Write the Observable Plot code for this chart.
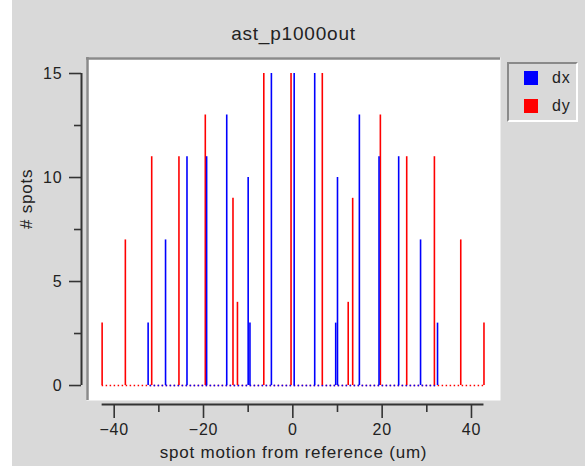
<!DOCTYPE html>
<html>
<head>
<meta charset="utf-8">
<script src="https://cdn.jsdelivr.net/npm/d3@7"></script>
<script src="https://cdn.jsdelivr.net/npm/@observablehq/plot@0.6"></script>
<style>
html, body { margin: 0; padding: 0; background: #ffffff; }
#chart { position: absolute; left: 12px; top: 0; width: 573px; height: 466px; background: #d9d9d9; }
#chart svg text { letter-spacing: 0.8px; }
#legend { position: absolute; left: 507px; top: 62px; width: 67px; height: 56px;
  border-style: solid; border-width: 2px; border-color: #8a8a8a #ffffff #ffffff #8a8a8a;
  font-family: "Liberation Sans", Arial, sans-serif; font-size: 16px; color: #222; }
.item { position: absolute; left: 0; height: 16px; width: 67px; }
.sw { position: absolute; left: 15px; top: 0; width: 14px; height: 14px; }
.lb { position: absolute; left: 43px; top: -3px; letter-spacing: 0.8px; line-height: 20px; }
</style>
</head>
<body>
<div id="chart"></div>
<div id="legend"></div>
<script>
// ---- data ----
const title = "ast_p1000out";
const xLabel = "spot motion from reference (um)";
const yLabel = "# spots";
const seriesNames = ["dx", "dy"];
const seriesColors = ["#0000ff", "#ff0000"];
const dxPos   = [-32.4, -28.5, -23.7, -19.3, -14.8, -10.0, -9.6, -4.8, 0.3, 4.9, 9.6, 10.0, 14.9, 19.3, 23.7, 28.6, 32.4];
const dxCount = [3, 7, 11, 11, 13, 10, 3, 15, 15, 15, 3, 10, 13, 11, 11, 7, 3];
const dyPos   = [-42.7, -37.5, -31.6, -25.5, -19.6, -13.4, -12.4, -6.5, -0.4, 6.6, 12.4, 13.4, 19.6, 25.5, 31.7, 37.6, 42.8];
const dyCount = [3, 7, 11, 11, 13, 9, 4, 15, 15, 15, 4, 9, 13, 11, 11, 7, 3];
const xMajorTicks = [-40, -20, 0, 20, 40];
const xMinorTicks = [-30, -10, 10, 30];
const yMajorTicks = [0, 5, 10, 15];
const yMinorTicks = [2.5, 7.5, 12.5];

// ---- build table ----
const dxData = dxPos.map((x, i) => ({x, n: dxCount[i], s: seriesNames[0]}));
const dyData = dyPos.map((x, i) => ({x, n: dyCount[i], s: seriesNames[1]}));
const allX = dxPos.concat(dyPos);
const [xMin, xMax] = d3.extent(allX);
const xDomain = [-46.2, 46.5];
const yDomain = [-0.72, 15.77];
const axisColor = "#333333";
const font = "'Liberation Sans', Arial, sans-serif";
const blank = () => "";

const plot = Plot.plot({
  width: 573,
  height: 466,
  marginLeft: 74,
  marginRight: 85,
  marginTop: 57,
  marginBottom: 66,
  style: {background: "#d9d9d9", fontFamily: font, fontSize: "16px", color: "#222"},
  x: {domain: xDomain, axis: null},
  y: {domain: yDomain, axis: null},
  marks: [
    Plot.frame({fill: "white", stroke: null}),
    Plot.ruleY([yDomain[1]], {stroke: "#8a8a8a", strokeWidth: 2.5, dy: 1}),
    Plot.ruleX([xDomain[0]], {stroke: "#8a8a8a", strokeWidth: 2.5, dx: 1}),
    // zero baselines
    Plot.ruleY([0], {x1: d3.min(dyPos), x2: d3.max(dyPos), stroke: seriesColors[1], strokeWidth: 1.5, strokeDasharray: "1.5,2.5"}),
    Plot.ruleY([0], {x1: d3.min(dxPos), x2: d3.max(dxPos), stroke: seriesColors[0], strokeWidth: 1.5, strokeDasharray: "1.5,2.5", strokeDashoffset: 2}),
    // bars
    Plot.ruleX(dyData, {x: "x", y1: 0, y2: "n", stroke: seriesColors[1], strokeWidth: 1.6}),
    Plot.ruleX(dxData, {x: "x", y1: 0, y2: "n", stroke: seriesColors[0], strokeWidth: 1.6}),
    // y axis
    Plot.ruleX([xDomain[0]], {y1: yMajorTicks[0], y2: yMajorTicks[yMajorTicks.length - 1], dx: -5, stroke: axisColor, strokeWidth: 2}),
    Plot.axisY({ticks: yMajorTicks, tickSize: 12, tickPadding: 7, dx: -5, label: null, stroke: axisColor, strokeWidth: 1.6, fill: "#222", fontSize: 16}),
    Plot.axisY({ticks: yMinorTicks, tickSize: 7, dx: -5, label: null, tickFormat: blank, stroke: axisColor, strokeWidth: 1.6}),
    // x axis
    Plot.ruleY([yDomain[0]], {x1: xMin, x2: xMax, dy: 4, stroke: axisColor, strokeWidth: 2}),
    Plot.axisX({ticks: xMajorTicks, tickSize: 14, tickPadding: 5, dy: 4, label: null, stroke: axisColor, strokeWidth: 1.6, fill: "#222", fontSize: 16}),
    Plot.axisX({ticks: xMinorTicks, tickSize: 8, dy: 4, label: null, tickFormat: blank, stroke: axisColor, strokeWidth: 1.6}),
    // labels
    Plot.text([title], {frameAnchor: "top", dy: -24, lineAnchor: "middle", fontSize: 19, fill: "#222", ariaLabel: "title"}),
    Plot.text([xLabel], {frameAnchor: "bottom", dy: 52, lineAnchor: "middle", fontSize: 17, fill: "#222"}),
    Plot.text([yLabel], {frameAnchor: "left", dx: -60, rotate: -90, lineAnchor: "middle", fontSize: 17, fill: "#222"})
  ]
});
plot.querySelectorAll('g[aria-label="title"] text').forEach(t => t.style.letterSpacing = "1.8px");
document.getElementById("chart").appendChild(plot);

// legend
const legend = document.getElementById("legend");
seriesNames.forEach((name, i) => {
  const item = document.createElement("div");
  item.className = "item";
  item.style.top = (7 + i * 28) + "px";
  const sw = document.createElement("div");
  sw.className = "sw";
  sw.style.background = seriesColors[i];
  const lb = document.createElement("div");
  lb.className = "lb";
  lb.textContent = name;
  item.appendChild(sw);
  item.appendChild(lb);
  legend.appendChild(item);
});
</script>
</body>
</html>
